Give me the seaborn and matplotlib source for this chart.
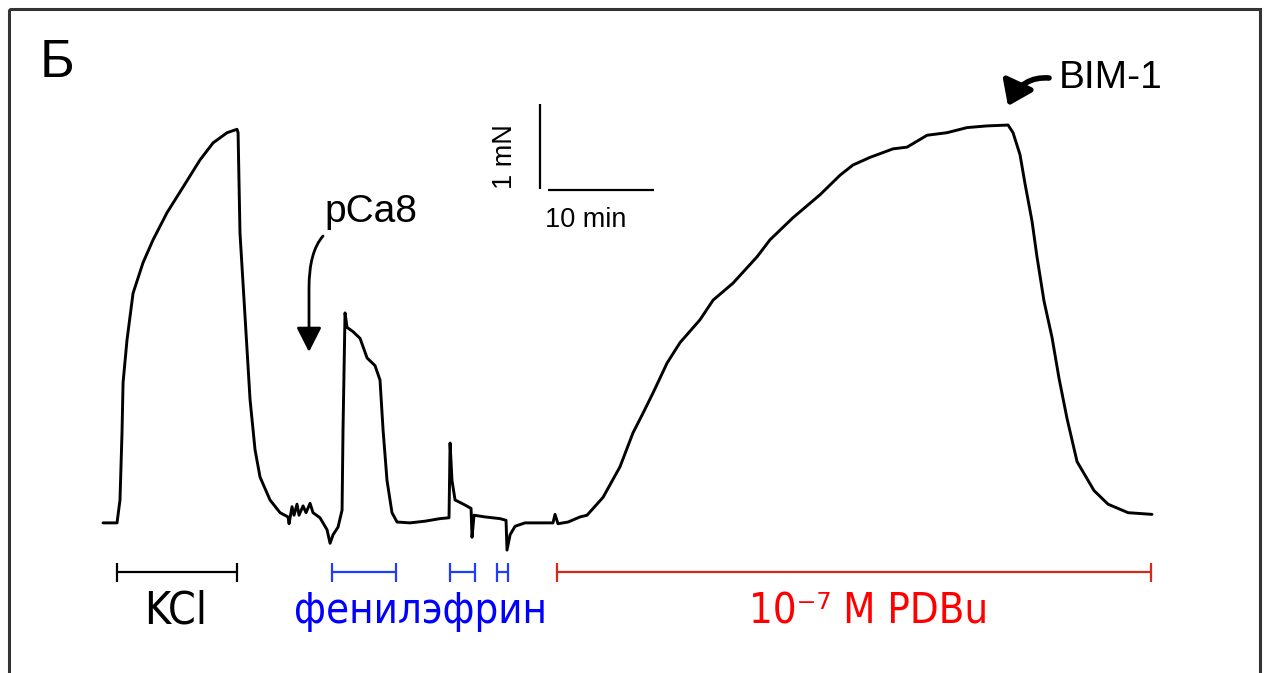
import matplotlib
matplotlib.use('Agg')
import pandas as pd
import matplotlib.pyplot as plt
import seaborn as sns
from matplotlib.patches import FancyArrowPatch, Rectangle
from matplotlib.path import Path

# force trace (time in min, force in mN above baseline)
time_min = [0.0, 1.32, 1.60, 1.79, 1.89, 2.26, 2.83, 3.77, 4.72, 6.04, 7.55, 9.15, 10.38, 11.70,
            12.64, 12.74, 12.92, 13.40, 13.87, 14.34, 14.81, 15.75, 16.70, 17.45, 17.55, 17.83,
            18.02, 18.30, 18.49, 18.87, 19.15, 19.53, 19.81, 20.47, 21.13, 21.42, 21.70, 22.17,
            22.55, 22.64, 22.83, 23.02, 23.58, 24.25, 24.91, 25.66, 26.13, 26.42, 26.79, 27.26,
            27.74, 28.96, 30.38, 31.79, 32.64, 32.74, 32.92, 33.21, 34.15, 34.72, 34.81, 35.00,
            36.04, 37.45, 38.02, 38.11, 38.40, 38.87, 39.81, 41.70, 42.45, 42.64, 42.92, 43.87,
            45.00, 45.66, 47.17, 48.77, 50.00, 50.94, 51.89, 53.21, 54.43, 56.32, 57.55, 59.43,
            61.70, 62.92, 65.09, 67.64, 69.53, 70.75, 72.36, 74.53, 75.85, 77.74, 79.62, 81.51,
            83.40, 85.38, 85.85, 86.51, 86.98, 87.64, 88.11, 88.77, 89.53, 90.19, 90.94, 91.89,
            93.49, 94.81, 96.70, 98.96]
force_mN = [-0.01, -0.01, 0.26, 1.05, 1.64, 2.14, 2.69, 3.05, 3.32, 3.64, 3.94, 4.26, 4.46, 4.58,
            4.62, 4.58, 3.40, 2.41, 1.44, 0.85, 0.53, 0.26, 0.11, 0.06, -0.02, 0.18,
            0.08, 0.21, 0.08, 0.19, 0.11, 0.22, 0.11, 0.05, -0.09, -0.25, -0.15, -0.06,
            0.14, 1.08, 2.46, 2.29, 2.24, 2.16, 1.93, 1.84, 1.67, 1.08, 0.49, 0.11,
            0.00, -0.01, 0.01, 0.04, 0.05, 0.93, 0.49, 0.26, 0.20, 0.16, -0.18, 0.08,
            0.06, 0.04, 0.02, -0.33, -0.15, -0.05, -0.01, -0.01, -0.01, 0.09, -0.02, 0.00,
            0.06, 0.08, 0.29, 0.65, 1.05, 1.28, 1.52, 1.87, 2.11, 2.38, 2.61, 2.81,
            3.12, 3.32, 3.58, 3.85, 4.08, 4.20, 4.29, 4.39, 4.41, 4.55, 4.58, 4.64,
            4.66, 4.67, 4.58, 4.32, 3.98, 3.54, 3.12, 2.60, 2.17, 1.69, 1.22, 0.71,
            0.37, 0.21, 0.11, 0.09]

# treatment periods (start, end) in min
kcl_span = (1.3, 12.6)
phe_spans = [(21.6, 27.6), (32.7, 35.1), (37.2, 38.2)]
pdbu_span = (42.8, 98.9)
bar_level = -0.59

df = pd.DataFrame({'t': time_min, 'F': force_mN})

sns.set_style('white')
fig = plt.figure(figsize=(12.65, 6.73), dpi=100)
ax = fig.add_axes([0, 0, 1, 1])
sns.lineplot(data=df, x='t', y='F', sort=False, estimator=None, color='black', lw=2.1, ax=ax)
ax.set_xlim(-9.72, 109.62)
ax.set_ylim(-1.776, 6.141)
ax.axis('off')

def span_bar(a, b, col):
    ax.hlines(bar_level, a, b, color=col, lw=1.6)
    ax.vlines([a, b], bar_level - 0.11, bar_level + 0.11, color=col, lw=1.6)

span_bar(*kcl_span, 'black')
for a, b in phe_spans:
    span_bar(a, b, '#1f3cff')
span_bar(*pdbu_span, '#d42a1a')

# scale bar 1 mN / 10 min
ax.vlines(41.2, 3.92, 4.92, color='black', lw=1.6)
ax.hlines(3.906, 42.0, 52.0, color='black', lw=1.6)

# overlay in pixel units for labels and arrows
ov = fig.add_axes([0, 0, 1, 1])
ov.set_xlim(0, 1265)
ov.set_ylim(673, 0)
ov.axis('off')

ov.add_patch(Rectangle((9, 9), 1251, 700, fill=False, ec='#333333', lw=2.2, clip_on=False))

arial = 'Liberation Sans'
ov.text(40, 63, 'Б', fontsize=38, family=arial, va='center', ha='left', color='black')
ov.text(371, 212, 'pCa8', fontsize=28, family=arial, va='center', ha='center', color='black')
ov.text(1111, 78, 'BIM-1', fontsize=28, family=arial, va='center', ha='center', color='black')
ov.text(505, 157, '1 mN', fontsize=19.5, family=arial, va='center', ha='center', rotation=90,
        color='black')
ov.text(586, 220, '10 min', fontsize=19.5, family=arial, va='center', ha='center', color='black')

cond = dict(family='DejaVu Sans', fontstretch='condensed', va='baseline', ha='center')
ov.text(176, 623, 'KCl', color='black', fontsize=32, **cond)
ov.text(420, 623, 'фенилэфрин', color='#0000ff', fontsize=30, **cond)
ov.text(869, 624, '10⁻⁷ M PDBu', color='#ff0000', fontsize=30, **cond)

# pCa8 arrow
p = Path([(323, 236), (309, 252), (309, 288), (309, 352)],
         [Path.MOVETO, Path.CURVE3, Path.CURVE3, Path.LINETO])
ov.add_patch(FancyArrowPatch(path=p, arrowstyle='-|>,head_length=0.75,head_width=0.38',
                             mutation_scale=20, color='black', lw=2))
# BIM-1 arrow
p2 = Path([(1049, 78), (1022, 76), (1008, 106)],
          [Path.MOVETO, Path.CURVE3, Path.CURVE3])
ov.add_patch(FancyArrowPatch(path=p2, arrowstyle='-|>,head_length=0.7,head_width=0.5',
                             mutation_scale=20, color='black', lw=4, capstyle='round'))

fig.savefig('out.png', dpi=100)
